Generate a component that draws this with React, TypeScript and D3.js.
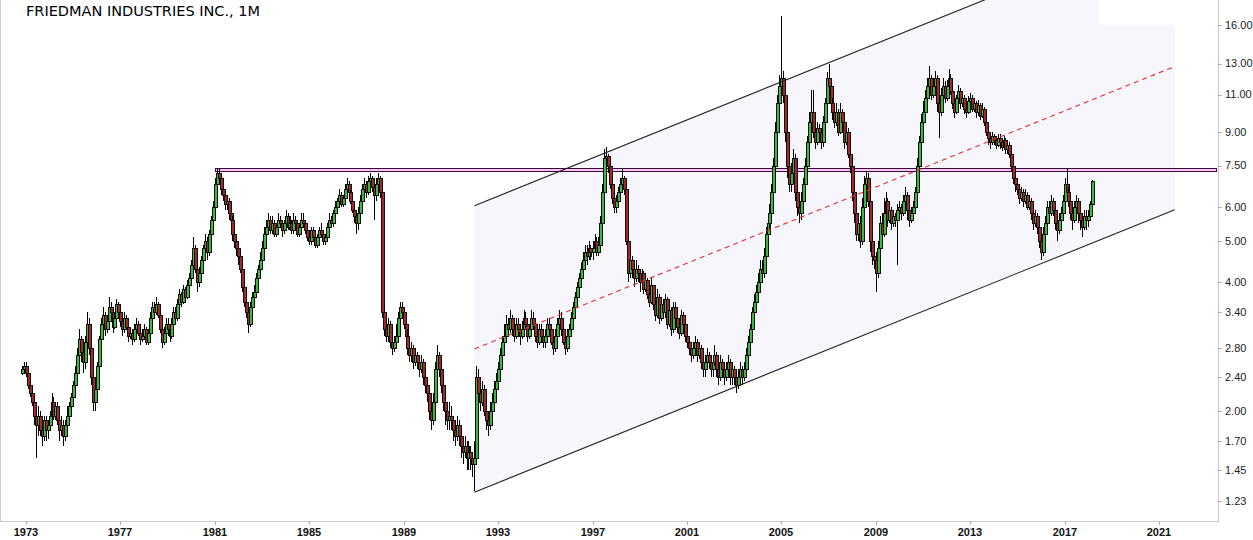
import React from 'react';
import * as d3 from 'd3';

const title = 'FRIEDMAN INDUSTRIES INC., 1M';
// monthly candles, first candle = Nov 1972
const firstYear = 1972;
const firstMonth = 10;
const firstOpen = 2.45;

const closes = [
  2.50, 2.55,
  2.45, 2.30, 2.20, 2.10, 1.95, 1.85, 1.95, 1.80, 1.75, 1.90, 1.80, 1.85,
  1.95, 2.10, 1.95, 2.05, 1.90, 1.80, 1.85, 1.75, 1.85, 1.95, 2.05, 2.15,
  2.30, 2.45, 2.70, 2.95, 2.75, 2.60, 2.90, 3.20, 2.80, 2.40, 2.10, 2.25,
  2.55, 2.95, 3.20, 3.35, 3.10, 3.25, 3.50, 3.40, 3.15, 3.30, 3.55, 3.40,
  3.25, 3.10, 3.30, 3.15, 3.00, 3.05, 2.95, 3.10, 3.20, 3.05, 2.95, 3.00,
  3.10, 2.90, 3.05, 3.30, 3.50, 3.40, 3.55, 3.35, 3.10, 2.90, 3.05, 3.20,
  3.10, 3.00, 3.20, 3.40, 3.30, 3.55, 3.75, 3.60, 3.85, 3.70, 3.95, 4.10,
  4.40, 4.80, 4.30, 4.00, 4.20, 4.50, 4.80, 5.00, 4.70, 5.20, 5.60, 6.00,
  6.80, 7.20, 7.00, 6.60, 6.40, 6.10, 6.20, 5.80, 5.60, 5.20, 5.00, 4.80,
  4.60, 4.30, 3.90, 3.60, 3.40, 3.20, 3.50, 3.70, 3.80, 4.10, 4.30, 4.50,
  4.80, 5.20, 5.40, 5.60, 5.30, 5.50, 5.20, 5.40, 5.60, 5.50, 5.30, 5.50,
  5.70, 5.40, 5.50, 5.30, 5.60, 5.50, 5.20, 5.40, 5.60, 5.50, 5.30, 5.10,
  5.00, 5.30, 5.10, 4.90, 5.10, 5.30, 5.20, 5.00, 5.10, 5.40, 5.60, 5.50,
  5.80, 6.00, 6.20, 6.40, 6.10, 6.30, 6.60, 6.80, 6.50, 6.20, 5.90, 5.70,
  5.50, 5.80, 6.20, 6.60, 6.80, 6.50, 6.90, 7.00, 6.70, 6.40, 6.80, 7.00,
  6.50, 3.40, 3.10, 3.00, 3.20, 2.90, 2.80, 2.90, 3.00, 3.30, 3.50, 3.40,
  3.20, 3.00, 2.80, 2.70, 2.80, 2.60, 2.70, 2.60, 2.50, 2.60, 2.40, 2.30,
  2.20, 2.00, 1.90, 2.10, 2.50, 2.70, 2.50, 2.30, 2.10, 2.00, 1.90, 1.95,
  1.90, 1.80, 1.75, 1.85, 1.75, 1.65, 1.60, 1.65, 1.55, 1.60, 1.55, 1.50,
  1.55, 2.40, 2.20, 2.10, 2.25, 2.00, 1.90, 1.85, 2.00, 2.10, 2.25, 2.35,
  2.50, 2.70, 2.90, 3.00, 3.20, 3.10, 3.30, 3.10, 3.00, 3.20, 3.10, 3.00,
  3.10, 3.30, 3.20, 3.00, 3.10, 3.30, 3.20, 3.00, 2.90, 3.10, 3.00, 2.90,
  3.00, 3.20, 3.10, 2.90, 2.80, 3.00, 3.20, 3.30, 3.10, 2.90, 2.80, 3.00,
  3.10, 3.30, 3.50, 3.70, 3.90, 4.10, 4.30, 4.50, 4.70, 4.60, 4.80, 4.70,
  4.80, 5.00, 4.70, 4.90, 5.50, 6.50, 7.80, 7.90, 7.50, 6.80, 6.30, 6.00,
  6.20, 6.50, 6.80, 7.00, 6.60, 5.00, 4.20, 4.50, 4.30, 4.10, 4.30, 4.20,
  4.00, 4.20, 3.85, 4.05, 3.75, 3.60, 3.95, 3.55, 3.35, 3.70, 3.30, 3.55,
  3.40, 3.65, 3.20, 3.45, 3.10, 3.50, 3.30, 3.15, 3.05, 3.35, 3.20, 3.00,
  2.90, 2.80, 2.70, 2.80, 2.90, 2.70, 2.80, 2.60, 2.50, 2.60, 2.70, 2.60,
  2.50, 2.60, 2.70, 2.50, 2.40, 2.60, 2.50, 2.40, 2.50, 2.60, 2.40, 2.50,
  2.40, 2.30, 2.40, 2.50, 2.40, 2.50, 2.70, 2.90, 3.10, 3.40, 3.60, 3.80,
  4.00, 4.30, 4.20, 4.60, 5.20, 5.50, 5.80, 6.50, 7.50, 9.00, 10.50, 11.50,
  12.00, 11.00, 9.00, 7.50, 6.80, 7.20, 7.80, 6.50, 6.00, 5.80, 6.20, 6.80,
  7.50, 8.50, 9.50, 10.00, 9.00, 8.50, 9.20, 9.00, 8.50, 9.50, 10.50, 12.00,
  11.50, 10.50, 10.00, 9.50, 10.00, 9.00, 10.00, 9.50, 8.50, 9.00, 8.00, 7.50,
  6.50, 5.80, 5.20, 5.50, 5.00, 6.00, 6.80, 7.00, 6.20, 5.00, 4.60, 4.50,
  4.20, 4.80, 5.50, 5.20, 5.80, 6.20, 5.60, 5.90, 5.50, 5.70, 5.60, 5.90,
  6.00, 5.80, 6.20, 6.40, 5.90, 5.60, 5.80, 6.00, 6.50, 7.50, 8.50, 9.50,
  10.00, 10.80, 11.50, 12.00, 11.00, 11.50, 12.00, 10.50, 10.00, 11.00, 11.50, 10.80,
  11.50, 12.00, 11.20, 10.50, 10.00, 10.80, 11.20, 10.50, 10.80, 10.20, 10.00, 10.60,
  10.80, 10.20, 10.50, 10.00, 10.40, 9.80, 10.20, 9.50, 9.00, 8.70, 8.50, 8.80,
  8.60, 8.40, 8.70, 8.50, 8.30, 8.60, 8.20, 8.40, 8.00, 7.50, 7.00, 6.80,
  6.60, 6.30, 6.50, 6.20, 6.40, 6.00, 6.20, 5.80, 5.50, 5.70, 5.40, 5.00,
  4.70, 5.20, 5.50, 6.00, 5.80, 6.20, 5.90, 5.50, 5.30, 5.60, 5.80, 6.20,
  6.80, 6.50, 6.20, 5.80, 5.60, 6.00, 6.20, 5.80, 5.60, 5.40, 5.70, 5.60,
  5.70, 6.10, 6.90,
];

const highs = [
  2.55, 2.60,
  2.60, 2.50, 2.35, 2.25, 2.15, 2.00, 2.05, 2.00, 1.85, 1.95, 1.95, 1.90,
  2.00, 2.20, 2.15, 2.10, 2.10, 1.95, 1.95, 1.90, 1.90, 2.05, 2.10, 2.20,
  2.35, 2.55, 2.80, 3.10, 3.00, 2.80, 3.00, 3.40, 3.30, 2.85, 2.45, 2.30,
  2.60, 3.00, 3.30, 3.50, 3.40, 3.35, 3.70, 3.60, 3.45, 3.40, 3.65, 3.60,
  3.45, 3.30, 3.40, 3.35, 3.20, 3.15, 3.10, 3.20, 3.30, 3.25, 3.10, 3.10,
  3.20, 3.15, 3.10, 3.40, 3.60, 3.60, 3.70, 3.60, 3.40, 3.20, 3.15, 3.30,
  3.30, 3.20, 3.30, 3.50, 3.50, 3.65, 3.85, 3.80, 3.95, 3.90, 4.05, 4.20,
  4.50, 5.10, 4.90, 4.40, 4.35, 4.60, 4.90, 5.20, 5.10, 5.30, 5.70, 6.20,
  7.00, 7.40, 7.35, 7.10, 6.70, 6.50, 6.40, 6.30, 5.90, 5.70, 5.30, 5.10,
  4.90, 4.70, 4.40, 4.00, 3.70, 3.50, 3.60, 3.80, 3.95, 4.20, 4.40, 4.70,
  5.00, 5.40, 5.60, 5.80, 5.70, 5.70, 5.60, 5.50, 5.80, 5.70, 5.60, 5.60,
  5.90, 5.80, 5.70, 5.60, 5.80, 5.70, 5.60, 5.50, 5.80, 5.80, 5.60, 5.40,
  5.20, 5.40, 5.40, 5.20, 5.20, 5.40, 5.50, 5.30, 5.20, 5.50, 5.80, 5.70,
  5.90, 6.20, 6.30, 6.60, 6.50, 6.40, 6.80, 7.00, 6.90, 6.60, 6.30, 6.00,
  5.80, 6.00, 6.40, 6.80, 7.00, 6.90, 7.10, 7.20, 7.10, 6.80, 7.00, 7.20,
  7.10, 6.60, 3.50, 3.30, 3.30, 3.25, 3.00, 3.00, 3.20, 3.40, 3.60, 3.60,
  3.50, 3.30, 3.10, 2.90, 2.90, 2.85, 2.80, 2.75, 2.65, 2.70, 2.65, 2.45,
  2.40, 2.25, 2.05, 2.20, 2.60, 2.85, 2.75, 2.55, 2.35, 2.20, 2.05, 2.10,
  2.05, 1.95, 1.90, 1.95, 1.90, 1.80, 1.75, 1.75, 1.70, 1.70, 1.65, 1.60,
  1.70, 2.55, 2.50, 2.30, 2.35, 2.30, 2.05, 1.95, 2.10, 2.20, 2.35, 2.45,
  2.60, 2.80, 3.00, 3.20, 3.35, 3.30, 3.45, 3.35, 3.20, 3.30, 3.30, 3.20,
  3.25, 3.45, 3.40, 3.25, 3.20, 3.45, 3.40, 3.25, 3.10, 3.20, 3.20, 3.10,
  3.10, 3.30, 3.30, 3.15, 3.00, 3.10, 3.30, 3.45, 3.40, 3.15, 3.00, 3.10,
  3.20, 3.40, 3.60, 3.80, 4.00, 4.20, 4.45, 4.70, 4.90, 4.90, 5.00, 4.90,
  5.00, 5.20, 5.10, 5.10, 5.70, 6.80, 8.20, 8.30, 8.00, 7.60, 6.90, 6.50,
  6.40, 6.70, 7.00, 7.40, 7.10, 6.70, 5.10, 4.70, 4.60, 4.40, 4.50, 4.40,
  4.30, 4.30, 4.25, 4.20, 4.10, 3.90, 4.10, 3.95, 3.70, 3.85, 3.75, 3.70,
  3.65, 3.75, 3.70, 3.55, 3.50, 3.60, 3.60, 3.40, 3.25, 3.45, 3.40, 3.30,
  3.15, 3.00, 2.90, 2.90, 3.00, 2.95, 2.90, 2.85, 2.70, 2.70, 2.80, 2.75,
  2.70, 2.70, 2.85, 2.75, 2.55, 2.70, 2.65, 2.55, 2.60, 2.70, 2.65, 2.60,
  2.55, 2.45, 2.50, 2.60, 2.55, 2.60, 2.80, 3.00, 3.20, 3.50, 3.75, 3.95,
  4.20, 4.50, 4.50, 4.80, 5.40, 5.80, 6.10, 6.80, 7.80, 9.50, 11.00, 12.20,
  16.80, 12.50, 11.20, 9.20, 7.80, 7.60, 8.20, 8.00, 6.80, 6.30, 6.50, 7.00,
  7.80, 8.80, 10.00, 11.30, 11.30, 9.20, 9.50, 9.40, 9.20, 9.80, 10.80, 12.40,
  13.00, 11.80, 10.80, 10.30, 10.50, 10.20, 10.50, 10.20, 9.60, 9.30, 9.20, 8.20,
  7.80, 6.80, 6.00, 5.80, 5.70, 6.30, 7.10, 7.30, 7.20, 6.40, 5.20, 5.00,
  4.70, 5.00, 5.70, 5.80, 6.30, 6.50, 6.30, 6.10, 6.00, 5.90, 5.80, 6.10,
  6.20, 6.10, 6.40, 6.70, 6.50, 6.00, 6.00, 6.20, 6.70, 7.80, 8.80, 9.90,
  10.60, 11.30, 12.00, 12.80, 12.20, 11.90, 12.50, 12.20, 10.80, 11.40, 12.00, 11.80,
  11.90, 12.60, 12.30, 11.50, 10.70, 11.00, 11.60, 11.40, 11.10, 11.00, 10.50, 10.90,
  11.10, 11.00, 10.80, 10.60, 10.70, 10.50, 10.50, 10.30, 9.60, 9.20, 8.90, 9.00,
  8.90, 8.80, 8.90, 8.90, 8.60, 8.80, 8.70, 8.60, 8.50, 8.10, 7.60, 7.20,
  7.00, 6.70, 6.70, 6.60, 6.60, 6.50, 6.40, 6.30, 5.90, 5.90, 5.80, 5.50,
  5.10, 5.40, 5.70, 6.20, 6.20, 6.40, 6.30, 6.00, 5.70, 5.80, 6.00, 6.40,
  7.00, 7.40, 6.70, 6.40, 6.00, 6.20, 6.40, 6.30, 5.90, 5.80, 5.90, 5.90,
  5.90, 6.20, 6.95,
];

const lows = [
  2.42, 2.45,
  2.40, 2.25, 2.15, 2.05, 1.85, 1.55, 1.75, 1.75, 1.65, 1.70, 1.70, 1.72,
  1.80, 1.90, 1.90, 1.90, 1.85, 1.70, 1.75, 1.65, 1.70, 1.80, 1.90, 2.00,
  2.10, 2.25, 2.40, 2.60, 2.60, 2.45, 2.50, 2.75, 2.70, 2.30, 2.00, 2.00,
  2.20, 2.50, 2.90, 3.10, 3.00, 3.05, 3.20, 3.30, 3.05, 3.10, 3.25, 3.30,
  3.15, 3.00, 3.05, 3.10, 2.90, 2.95, 2.85, 2.90, 3.05, 3.00, 2.85, 2.90,
  2.95, 2.85, 2.85, 3.00, 3.25, 3.30, 3.35, 3.30, 3.05, 2.80, 2.85, 3.00,
  3.00, 2.90, 2.95, 3.15, 3.20, 3.25, 3.50, 3.50, 3.55, 3.60, 3.65, 3.85,
  4.00, 4.30, 4.20, 3.80, 3.90, 4.10, 4.40, 4.70, 4.50, 4.60, 5.10, 5.50,
  5.90, 6.60, 6.80, 6.40, 6.20, 5.90, 5.90, 5.60, 5.40, 5.00, 4.80, 4.60,
  4.40, 4.20, 3.80, 3.50, 3.30, 3.05, 3.15, 3.40, 3.60, 3.70, 4.00, 4.20,
  4.40, 4.70, 5.10, 5.30, 5.20, 5.20, 5.10, 5.10, 5.30, 5.40, 5.10, 5.20,
  5.40, 5.30, 5.30, 5.20, 5.20, 5.40, 5.10, 5.10, 5.30, 5.40, 5.20, 5.00,
  4.90, 4.90, 5.00, 4.80, 4.80, 5.00, 5.10, 4.90, 4.90, 5.00, 5.30, 5.40,
  5.40, 5.70, 5.90, 6.10, 6.00, 6.00, 6.20, 6.50, 6.40, 6.10, 5.80, 5.50,
  5.20, 5.30, 5.70, 6.10, 6.50, 6.30, 6.40, 6.80, 6.50, 5.60, 6.20, 6.60,
  6.30, 3.30, 3.00, 2.90, 2.90, 2.80, 2.70, 2.75, 2.85, 2.95, 3.20, 3.30,
  3.10, 2.90, 2.70, 2.60, 2.60, 2.50, 2.55, 2.50, 2.40, 2.45, 2.30, 2.20,
  2.10, 1.90, 1.80, 1.85, 2.05, 2.40, 2.40, 2.20, 2.00, 1.85, 1.80, 1.80,
  1.80, 1.70, 1.65, 1.70, 1.65, 1.55, 1.50, 1.55, 1.45, 1.45, 1.45, 1.40,
  1.30, 1.55, 2.10, 2.00, 2.05, 1.95, 1.80, 1.75, 1.80, 1.95, 2.05, 2.20,
  2.30, 2.45, 2.65, 2.80, 2.95, 3.00, 3.05, 3.00, 2.90, 2.95, 3.00, 2.85,
  2.95, 3.05, 3.10, 2.90, 2.95, 3.05, 3.10, 2.90, 2.80, 2.85, 2.90, 2.80,
  2.80, 2.95, 3.00, 2.85, 2.70, 2.75, 2.95, 3.15, 3.00, 2.85, 2.70, 2.75,
  2.95, 3.05, 3.25, 3.45, 3.60, 3.80, 4.00, 4.20, 4.40, 4.40, 4.50, 4.50,
  4.50, 4.70, 4.60, 4.60, 4.80, 5.40, 6.40, 7.40, 7.20, 6.60, 6.10, 5.80,
  5.80, 6.00, 6.40, 6.70, 6.40, 4.90, 4.00, 4.10, 4.10, 3.90, 4.00, 4.00,
  3.80, 3.90, 3.75, 3.80, 3.65, 3.50, 3.55, 3.45, 3.25, 3.30, 3.20, 3.25,
  3.30, 3.30, 3.10, 3.15, 3.00, 3.05, 3.20, 3.05, 2.95, 3.00, 3.05, 2.90,
  2.80, 2.70, 2.60, 2.65, 2.75, 2.60, 2.65, 2.50, 2.40, 2.40, 2.55, 2.50,
  2.40, 2.40, 2.55, 2.40, 2.30, 2.35, 2.40, 2.30, 2.35, 2.45, 2.30, 2.30,
  2.30, 2.20, 2.25, 2.35, 2.30, 2.35, 2.45, 2.65, 2.85, 3.05, 3.30, 3.50,
  3.70, 3.90, 4.00, 4.10, 4.50, 5.00, 5.30, 5.60, 6.30, 7.30, 8.70, 10.20,
  11.00, 10.50, 8.50, 7.00, 6.50, 6.50, 7.00, 6.20, 5.70, 5.50, 5.60, 6.00,
  6.80, 7.30, 8.20, 9.20, 8.70, 8.20, 8.40, 8.60, 8.20, 8.30, 9.30, 10.20,
  11.00, 10.20, 9.60, 9.20, 9.30, 8.80, 8.90, 9.20, 8.20, 8.40, 7.80, 7.20,
  6.20, 5.50, 5.00, 5.00, 4.80, 4.90, 5.90, 6.60, 6.00, 4.70, 4.40, 4.30,
  3.80, 4.10, 4.70, 5.00, 5.10, 5.60, 5.40, 5.50, 5.30, 5.40, 5.40, 4.40,
  5.70, 5.60, 5.70, 6.00, 5.60, 5.40, 5.50, 5.70, 5.90, 6.40, 7.30, 8.30,
  9.20, 9.80, 10.50, 11.20, 10.70, 10.80, 11.20, 10.00, 8.70, 9.80, 10.70, 10.50,
  10.60, 11.30, 11.00, 10.20, 9.70, 9.90, 10.60, 10.20, 10.30, 9.90, 9.70, 9.90,
  10.30, 10.00, 10.00, 9.70, 9.80, 9.60, 9.70, 9.30, 8.80, 8.40, 8.20, 8.40,
  8.40, 8.20, 8.30, 8.20, 8.10, 8.20, 8.00, 8.00, 7.80, 7.30, 6.80, 6.50,
  6.40, 6.10, 6.20, 6.00, 6.10, 5.90, 5.90, 5.60, 5.30, 5.40, 5.20, 4.80,
  4.50, 4.60, 5.10, 5.40, 5.60, 5.70, 5.70, 5.30, 5.00, 5.20, 5.50, 5.70,
  6.10, 6.30, 6.00, 5.60, 5.30, 5.50, 5.80, 5.50, 5.30, 5.10, 5.30, 5.30,
  5.40, 5.60, 6.00,
];

const yTickValues = [1.23, 1.45, 1.7, 2.0, 2.4, 2.8, 3.4, 4.0, 5.0, 6.0, 7.5, 9.0, 11.0, 13.0, 16.0];
const xTickYears = [1973, 1977, 1981, 1985, 1989, 1993, 1997, 2001, 2005, 2009, 2013, 2017, 2021];

// trend channel
const channelDates = [new Date(1992, 0, 1), new Date(2021, 8, 1)];
const channelLower = [1.29, 5.91];
const channelUpper = [6.04, 27.7];
const shadeCapDate = new Date(2018, 5, 1);
const shadeCapValue = 16;

// horizontal resistance band
const bandStart = new Date(1981, 0, 1);
const bandLow = 7.3;
const bandHigh = 7.42;

const W = 1253;
const H = 540;
const axisX = 1218;
const axisY = 521;

export default function App() {
  const x = d3.scaleTime().domain([new Date(1973, 0, 1), new Date(2021, 0, 1)]).range([26, 1159]);
  const y = d3.scaleLog().domain([1.23, 16]).range([501, 25]);

  const candles = closes.map((c, i) => {
    const o = i === 0 ? firstOpen : closes[i - 1];
    const h = Math.max(highs[i], o, c);
    const l = Math.min(lows[i], o, c);
    const date = new Date(firstYear, firstMonth + i, 1);
    return { date, o, h, l, c };
  });

  const lx0 = x(channelDates[0]);
  const lx1 = x(channelDates[1]);
  const lowY0 = y(channelLower[0]);
  const lowY1 = y(channelLower[1]);
  const upY0 = y(channelUpper[0]);
  const upY1 = y(channelUpper[1]);
  const midY0 = (lowY0 + upY0) / 2;
  const midY1 = (lowY1 + upY1) / 2;

  const tTop = (0 - upY0) / (upY1 - upY0);
  const xTop = lx0 + tTop * (lx1 - lx0);
  const capX = x(shadeCapDate);
  const capY = y(shadeCapValue);
  const shadePts: [number, number][] = [
    [lx0, lowY0],
    [lx0, upY0],
    [xTop, 0],
    [capX, 0],
    [capX, capY],
    [lx1, capY],
    [lx1, lowY1],
  ];
  const shadePath = d3.line()(shadePts) + 'Z';

  const bw = 3;

  return (
    <svg width={W} height={H} style={{ position: 'absolute', left: 0, top: 0, background: '#fff' }}
      fontFamily="'Liberation Sans', Arial, sans-serif">
      <defs>
        <clipPath id="plot">
          <rect x={0} y={0} width={axisX} height={axisY} />
        </clipPath>
      </defs>
      <rect x={0} y={0} width={W} height={H} fill="#fff" />
      <g clipPath="url(#plot)">
        <path d={shadePath} fill="#f7f6fd" stroke="none" />
        <rect x={Math.round(x(bandStart)) + 0.5} y={Math.round(y(bandHigh)) + 0.5}
          width={axisX - 2 - Math.round(x(bandStart))} height={Math.round(y(bandLow)) - Math.round(y(bandHigh))}
          fill="#f6c6f4" stroke="#3a0a3a" strokeWidth={1} />
        <g shapeRendering="crispEdges">
          {candles.map((d, i) => {
            const cx = Math.round(x(d.date));
            const up = d.c >= d.o;
            const top = Math.round(y(Math.max(d.o, d.c)));
            const bot = Math.round(y(Math.min(d.o, d.c)));
            return (
              <g key={i}>
                <line x1={cx + 0.5} x2={cx + 0.5} y1={Math.round(y(d.h))} y2={Math.round(y(d.l))} stroke="#000" strokeWidth={1} />
                <rect x={cx - 1 + 0.5} y={top + 0.5} width={bw} height={Math.max(1, bot - top)}
                  fill={up ? '#3cba3c' : '#a4282a'} stroke="#111" strokeWidth={1} />
              </g>
            );
          })}
        </g>
        <line x1={lx0} y1={lowY0} x2={lx1} y2={lowY1} stroke="#222" strokeWidth={1.1} />
        <line x1={lx0} y1={upY0} x2={lx1} y2={upY1} stroke="#222" strokeWidth={1.1} />
        <line x1={lx0} y1={midY0} x2={lx1} y2={midY1} stroke="#e0302c" strokeWidth={1.1} strokeDasharray="5,4" />
      </g>

      <line x1={0.5} y1={0} x2={0.5} y2={axisY} stroke="#d0d0d0" />
      <line x1={0} y1={axisY + 0.5} x2={axisX} y2={axisY + 0.5} stroke="#c8c8c8" />
      <line x1={axisX + 0.5} y1={0} x2={axisX + 0.5} y2={axisY + 1} stroke="#c8c8c8" />

      {yTickValues.map((v) => (
        <g key={v}>
          <line x1={axisX} x2={axisX + 4} y1={Math.round(y(v)) + 0.5} y2={Math.round(y(v)) + 0.5} stroke="#b0b0b0" />
          <text x={axisX + 7} y={y(v)} dy="0.35em" fontSize={11} fill="#222">{v.toFixed(2)}</text>
        </g>
      ))}
      {xTickYears.map((yr) => {
        const px = Math.round(x(new Date(yr, 0, 1)));
        return (
          <g key={yr}>
            <line x1={px + 0.5} x2={px + 0.5} y1={axisY} y2={axisY + 4} stroke="#b0b0b0" />
            <text x={px} y={536} textAnchor="middle" fontSize={11} fontWeight="bold" fill="#111">{yr}</text>
          </g>
        );
      })}

      <text x={26} y={16} fontFamily="'DejaVu Sans', Verdana, sans-serif" fontSize={14.5} fill="#000">{title}</text>
    </svg>
  );
}
